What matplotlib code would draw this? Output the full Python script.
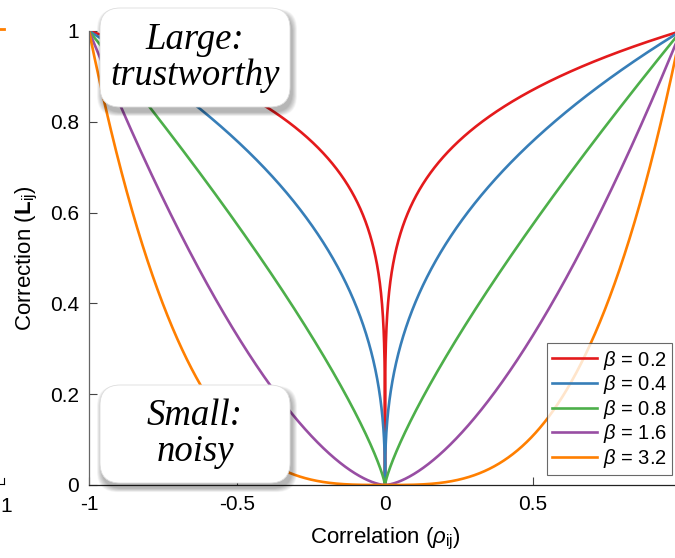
import matplotlib.pyplot as plt
import numpy as np
from matplotlib.patches import FancyBboxPatch
from matplotlib.lines import Line2D

plt.rcParams['font.family'] = ['Liberation Sans', 'DejaVu Sans']
plt.rcParams['mathtext.fontset'] = 'custom'
plt.rcParams['mathtext.it'] = 'Liberation Sans:italic'
plt.rcParams['mathtext.rm'] = 'Liberation Sans'
plt.rcParams['mathtext.bf'] = 'Liberation Sans:bold'

# correction exponents and their line colours
betas = [0.2, 0.4, 0.8, 1.6, 3.2]
colors = ["#e41a1c", "#377eb8", "#4daf4a", "#984ea3", "#ff7f00"]
xticks = [-1, -0.5, 0, 0.5]
yticks = [0, 0.2, 0.4, 0.6, 0.8, 1]

W, H = 675, 558
fig = plt.figure(figsize=(W / 100, H / 100), dpi=100)
ax = fig.add_axes([89 / W, 73 / H, 592 / W, 454 / H])

rho = np.linspace(-1, 1, 4001)
for b, c in zip(betas, colors):
    ax.plot(rho, np.abs(rho) ** b, color=c, lw=1.9, label=r"$\beta$ = %g" % b)

ax.set_xlim(-1, 1)
ax.set_ylim(0, 1)
ax.set_xticks(xticks)
ax.set_xticklabels(["-1", "-0.5", "0", "0.5"])
ax.set_yticks(yticks)
ax.set_yticklabels(["0", "0.2", "0.4", "0.6", "0.8", "1"])
ax.tick_params(direction="in", length=6, width=0.8, labelsize=15, pad=7,
               color="#444444")
for s in ["top", "right"]:
    ax.spines[s].set_visible(False)
ax.spines["left"].set_color("#666666")
ax.spines["bottom"].set_color("#222222")
for s in ["left", "bottom"]:
    ax.spines[s].set_linewidth(0.9)
ax.set_xlabel(r"Correlation ($\rho_{\mathrm{ij}}$)", fontsize=16, labelpad=9)
ax.set_ylabel(r"Correction ($\mathbf{L}_{\mathrm{ij}}$)", fontsize=16, labelpad=7)

leg = ax.legend(loc="lower right", bbox_to_anchor=(583 / 592, 10 / 454),
                fontsize=14.5, frameon=True, fancybox=False, handlelength=2.2,
                handletextpad=0.3, borderpad=0.25, labelspacing=0.08,
                borderaxespad=0)
leg.get_frame().set_edgecolor("#444444")
leg.get_frame().set_linewidth(0.8)


def note(x0, y0, w, h, text):
    # soft drop shadow then the rounded label box, pixel coords from top-left
    fx, fy = x0 / W, 1 - (y0 + h) / H
    fw, fh = w / W, h / H
    for k in range(10, 0, -1):
        d = k / W
        sh = FancyBboxPatch((fx + 2 / W - d / 2, fy - 5 / H - d / 2), fw + d, fh + d,
                            boxstyle="round,pad=0,rounding_size=0.03",
                            transform=fig.transFigure, fc="black", ec="none",
                            alpha=0.03, mutation_aspect=W / H)
        fig.add_artist(sh)
    box = FancyBboxPatch((fx, fy), fw, fh,
                         boxstyle="round,pad=0,rounding_size=0.03",
                         transform=fig.transFigure, fc="white", ec="#dddddd",
                         lw=0.6, mutation_aspect=W / H)
    fig.add_artist(box)
    fig.text(fx + fw / 2, fy + fh / 2, text, ha="center", va="center",
             fontsize=26.5, family="Liberation Serif", style="italic",
             linespacing=1.05)


note(100, 8, 190, 99, "Large:\ntrustworthy")
note(100, 385, 190, 98, "Small:\nnoisy")

# bits of the neighbouring panel at the left edge
fig.add_artist(Line2D([0, 4 / W], [1 - 29 / H] * 2, color="#ff7f00", lw=2,
                      transform=fig.transFigure))
fig.add_artist(Line2D([0, 4 / W], [1 - 484 / H] * 2, color="black", lw=0.8,
                      transform=fig.transFigure))
fig.add_artist(Line2D([4 / W, 4 / W], [1 - 484 / H, 1 - 478 / H], color="black",
                      lw=0.8, transform=fig.transFigure))
fig.text(0, 1 - 506 / H, "1", fontsize=15, va="center", ha="left")

fig.savefig("out.png", dpi=100)
